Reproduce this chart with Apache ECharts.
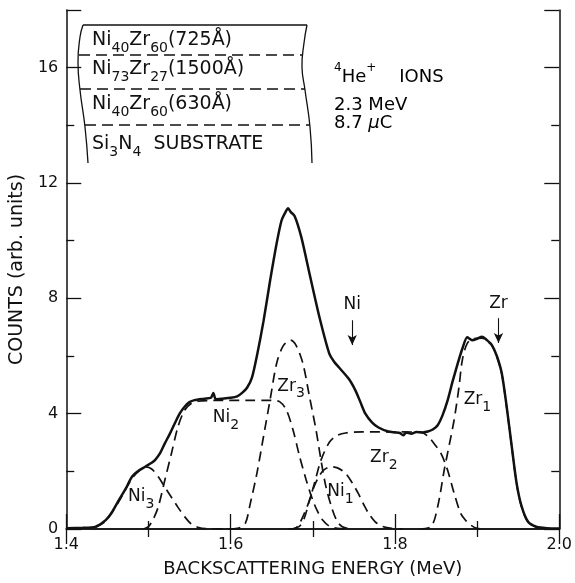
<!DOCTYPE html>
<html><head><meta charset="utf-8">
<script src="https://cdn.jsdelivr.net/npm/echarts@6/dist/echarts.min.js"></script>
<style>html,body{margin:0;padding:0;background:#fff}#c{width:575px;height:583px}</style>
</head><body><div id="c"></div>
<script>
// ---- data ----
const xTicks = [1.4, 1.6, 1.8, 2.0];
const yTicks = [0, 4, 8, 12, 16];

const measuredE = [1.40,1.42,1.43,1.436,1.448,1.456,1.464,1.472,1.48,1.488,1.496,1.504,1.508,1.514,1.52,1.526,1.532,1.538,1.544,1.55,1.556,1.568,1.576,1.579,1.582,1.59,1.60,1.608,1.614,1.62,1.626,1.632,1.64,1.648,1.656,1.662,1.667,1.67,1.673,1.678,1.686,1.696,1.708,1.72,1.726,1.732,1.744,1.752,1.758,1.764,1.772,1.78,1.792,1.80,1.806,1.81,1.814,1.82,1.826,1.834,1.84,1.846,1.852,1.858,1.864,1.87,1.876,1.882,1.888,1.894,1.90,1.906,1.912,1.918,1.924,1.93,1.936,1.942,1.948,1.954,1.962,1.972,1.985,2.0];
const measuredCounts = [0.03,0.04,0.05,0.08,0.31,0.6,1.0,1.38,1.81,2.02,2.16,2.3,2.39,2.62,2.97,3.3,3.66,4.0,4.24,4.4,4.47,4.52,4.55,4.72,4.5,4.52,4.55,4.6,4.72,4.9,5.25,6.0,7.2,8.6,9.9,10.7,11.0,11.12,11.0,10.85,10.13,8.86,7.36,6.09,5.8,5.6,5.2,4.8,4.4,4.0,3.7,3.52,3.38,3.35,3.33,3.25,3.35,3.3,3.36,3.35,3.38,3.45,3.6,3.95,4.45,5.1,5.7,6.25,6.65,6.55,6.6,6.67,6.55,6.38,6.0,5.4,4.24,2.9,1.6,0.8,0.25,0.08,0.03,0.02];

const ni3E = [1.436,1.448,1.464,1.48,1.49,1.497,1.504,1.512,1.52,1.528,1.536,1.544,1.552,1.56,1.57,1.61];
const ni3Counts = [0.06,0.28,0.95,1.75,2.05,2.15,2.08,1.81,1.45,1.1,0.75,0.43,0.18,0.06,0.01,0];

const ni2E = [1.494,1.5,1.506,1.512,1.52,1.528,1.536,1.544,1.552,1.56,1.58,1.62,1.65,1.66,1.668,1.676,1.684,1.692,1.70,1.706,1.712,1.72,1.73,1.74];
const ni2Counts = [0,0.08,0.35,0.77,1.7,2.62,3.55,4.12,4.35,4.43,4.46,4.46,4.46,4.41,4.12,3.43,2.51,1.7,1.0,0.6,0.31,0.1,0.02,0];

const zr3E = [1.60,1.61,1.618,1.624,1.632,1.64,1.648,1.656,1.664,1.673,1.68,1.688,1.696,1.704,1.71,1.716,1.724,1.73,1.736,1.745];
const zr3Counts = [0,0.03,0.2,0.89,1.93,3.2,4.47,5.74,6.35,6.55,6.35,5.74,4.59,3.43,2.39,1.47,0.66,0.25,0.08,0];

const ni1E = [1.675,1.684,1.69,1.696,1.702,1.708,1.714,1.722,1.73,1.74,1.748,1.756,1.762,1.768,1.776,1.784,1.796,1.81];
const ni1Counts = [0,0.1,0.4,1.0,1.5,1.85,2.06,2.16,2.12,1.93,1.6,1.2,0.85,0.54,0.25,0.1,0.02,0];

const zr2E = [1.67,1.68,1.688,1.696,1.702,1.71,1.72,1.728,1.74,1.76,1.80,1.832,1.84,1.848,1.856,1.864,1.872,1.88,1.886,1.892,1.90,1.91];
const zr2Counts = [0,0.05,0.43,1.0,1.58,2.39,3.0,3.22,3.33,3.37,3.37,3.35,3.22,2.95,2.62,2.05,1.24,0.54,0.3,0.14,0.02,0];

const zr1E = [1.83,1.844,1.852,1.86,1.864,1.872,1.878,1.882,1.888,1.896,1.906,1.912,1.918,1.924,1.93,1.936,1.942,1.948,1.954,1.962,1.972,1.985];
const zr1Counts = [0,0.08,0.77,2.05,2.62,3.78,4.93,5.86,6.44,6.6,6.62,6.52,6.36,5.98,5.38,4.22,2.88,1.58,0.78,0.24,0.07,0.02];

// peak labels (element, subscript, position in data units)
const peakNames = ['Ni','Ni','Zr','Ni','Zr','Zr'];
const peakSubs = ['3','2','3','1','2','1'];
const peakE = [1.4912,1.5944,1.6736,1.7336,1.7864,1.9004];
const peakV = [1.11,3.85,4.93,1.28,2.46,4.47];

// edge markers (arrows)
const edgeNames = ['Ni','Zr'];
const edgeE = [1.748,1.926];
const edgeLabelV = [7.76,7.8];
const edgeArrowTop = [7.24,7.31];
const edgeArrowBottom = [6.38,6.45];

// text blocks
const layerRows = [
  ['Ni','40','Zr','60','(725Å)'],
  ['Ni','73','Zr','27','(1500Å)'],
  ['Ni','40','Zr','60','(630Å)'],
];

// ---- build ----
const pairs = (xs, ys) => xs.map((x,i)=>[x, ys[i]]);
const FONT = 'DejaVu Sans';
const dash = {type:[10,6], width:1.7, color:'#111'};

function comp(name, xs, ys){
  return {name, type:'line', data:pairs(xs,ys), symbol:'none', smooth:0.3,
    lineStyle:dash, z:2, animation:false, silent:true};
}

const chart = echarts.init(document.getElementById('c'), null, {renderer:'canvas'});

const axisCommon = {
  type:'value',
  axisLine:{show:true, lineStyle:{color:'#111', width:1.5}},
  axisTick:{show:true, inside:true, length:15, lineStyle:{color:'#111', width:1.3}},
  minorTick:{show:true, splitNumber:2, length:8, lineStyle:{color:'#111', width:1.3}},
  splitLine:{show:false},
};

const layerRich = {
  m:{fontFamily:FONT, fontSize:19, color:'#111', lineHeight:20, verticalAlign:'top'},
  s:{fontFamily:FONT, fontSize:14, color:'#111', lineHeight:14, padding:[10,0,0,0], verticalAlign:'top'},
};
const layerY = [31, 60, 95];
const graphics = [];
layerRows.forEach((r,i)=>{
  graphics.push({type:'text', x:92, y:layerY[i], silent:true,
    style:{text:`{m|${r[0]}}{s|${r[1]}}{m|${r[2]}}{s|${r[3]}}{m|${r[4]}}`, rich:layerRich, fill:'#111'}});
});
graphics.push({type:'text', x:92, y:135, silent:true,
  style:{text:'{m|Si}{s|3}{m|N}{s|4}{m|  SUBSTRATE}', rich:layerRich, fill:'#111'}});
// info text
const infoRich = {
  m:{fontFamily:FONT, fontSize:18, color:'#111', lineHeight:20, padding:[6,0,0,0], verticalAlign:'top'},
  u:{fontFamily:FONT, fontSize:12, color:'#111', lineHeight:14, verticalAlign:'top'},
  g:{fontFamily:FONT, fontSize:18, fontStyle:'italic', color:'#111', lineHeight:20, padding:[6,0,0,0], verticalAlign:'top'},
};
graphics.push({type:'text', x:334, y:62, silent:true,
  style:{text:'{u|4}{m|He}{u|+}{m|    IONS}', rich:infoRich}});
graphics.push({type:'text', x:334, y:90, silent:true,
  style:{text:'{m|2.3 MeV}', rich:infoRich}});
graphics.push({type:'text', x:334, y:108, silent:true,
  style:{text:'{m|8.7 }{g|μ}{m|C}', rich:infoRich}});
// layer box outline (curved sides, solid top, dashed separators)
const boxStroke = {stroke:'#111', lineWidth:1.3, fill:null};
graphics.push({type:'polyline', silent:true, shape:{points:[[83,25],[307,25]]}, style:boxStroke});
graphics.push({type:'polyline', silent:true, shape:{points:[[83,25],[80,37],[78,62],[80,90],[85,127],[88,163]], smooth:0.5}, style:boxStroke});
graphics.push({type:'polyline', silent:true, shape:{points:[[307,25],[304,43],[302,67],[305,90],[310,127],[312,163]], smooth:0.5}, style:boxStroke});
const dashStroke = {stroke:'#111', lineWidth:1.3, fill:null, lineDash:[11,6]};
graphics.push({type:'polyline', silent:true, shape:{points:[[79,55],[302,55]]}, style:dashStroke});
graphics.push({type:'polyline', silent:true, shape:{points:[[80,89],[305,89]]}, style:dashStroke});
graphics.push({type:'polyline', silent:true, shape:{points:[[85,125],[310,125]]}, style:dashStroke});

const peakRich = {
  m:{fontFamily:FONT, fontSize:17, color:'#111', lineHeight:18, verticalAlign:'top'},
  s:{fontFamily:FONT, fontSize:14, color:'#111', lineHeight:14, padding:[9,0,0,0], verticalAlign:'top'},
};
const labelData = peakNames.map((n,i)=>({value:[peakE[i], peakV[i]], n, s:peakSubs[i]}));
edgeNames.forEach((n,i)=>labelData.push({value:[edgeE[i], edgeLabelV[i]], n, s:''}));

const option = {
  animation:false,
  backgroundColor:'#fff',
  grid:{left:60, right:15, top:10, bottom:54, containLabel:false},
  xAxis:[
    Object.assign({}, axisCommon, {position:'bottom', min:1.4, max:2.0, interval:0.2,
      name:'BACKSCATTERING ENERGY (MeV)', nameLocation:'middle', nameGap:31,
      nameTextStyle:{fontFamily:FONT, fontSize:18, color:'#111'},
      axisLabel:{show:true, margin:8, fontFamily:FONT, fontSize:16, color:'#111',
        formatter:v=>{const t=xTicks.find(x=>Math.abs(x-v)<1e-6); return t===undefined?'':t.toFixed(1);}}}),
    Object.assign({}, axisCommon, {position:'top', min:1.4, max:2.0, interval:0.2, axisLabel:{show:false}}),
  ],
  yAxis:[
    Object.assign({}, axisCommon, {position:'left', min:0, max:18, interval:4,
      name:'COUNTS (arb. units)', nameLocation:'middle', nameGap:31,
      nameTextStyle:{fontFamily:FONT, fontSize:19, color:'#111'},
      axisLabel:{show:true, margin:8, fontFamily:FONT, fontSize:16, color:'#111',
        formatter:v=> yTicks.includes(v) ? String(v) : ''}}),
    Object.assign({}, axisCommon, {position:'right', min:0, max:18, interval:4, axisLabel:{show:false}}),
  ],
  graphic:graphics,
  series:[
    comp('Ni3', ni3E, ni3Counts),
    comp('Ni2', ni2E, ni2Counts),
    comp('Zr3', zr3E, zr3Counts),
    comp('Ni1', ni1E, ni1Counts),
    comp('Zr2', zr2E, zr2Counts),
    comp('Zr1', zr1E, zr1Counts),
    {name:'measured', type:'line', data:pairs(measuredE, measuredCounts), symbol:'none', smooth:0.25,
      lineStyle:{color:'#111', width:2.5}, z:3, silent:true},
    {name:'labels', type:'scatter', data:labelData, symbolSize:0, silent:true, z:5,
      itemStyle:{opacity:1, color:'#111'},
      label:{show:true, position:'inside', color:'#111', opacity:1, rich:peakRich,
        formatter:p=> p.data.s ? `{m|${p.data.n}}{s|${p.data.s}}` : `{m|${p.data.n}}`},
      markLine:{silent:true, symbol:['none','arrow'], symbolSize:[7,10], precision:4,
        lineStyle:{color:'#111', width:1.1, type:'solid', opacity:1}, label:{show:false},
        data: edgeE.map((e,i)=>[{coord:[e, edgeArrowTop[i]]},{coord:[e, edgeArrowBottom[i]]}])}},
  ],
};
chart.setOption(option);
</script>
</body></html>
